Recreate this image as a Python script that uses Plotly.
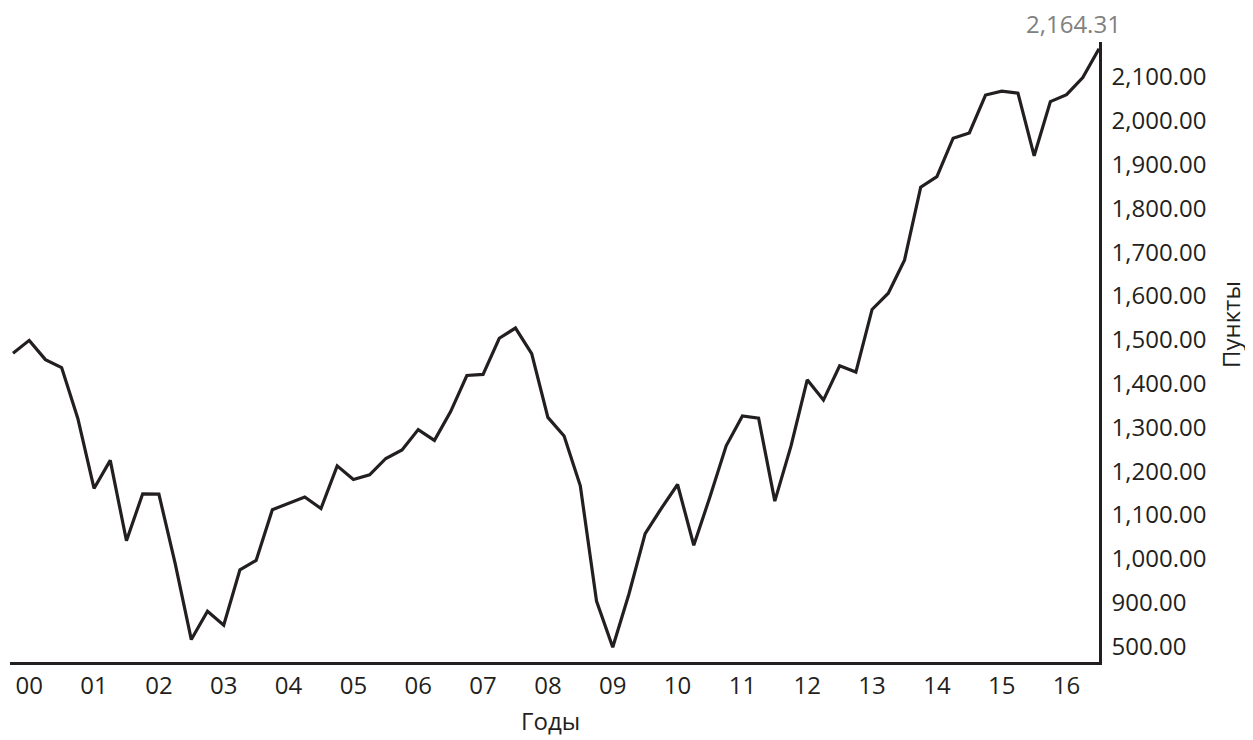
import plotly.graph_objects as go

# Quarter labels (quarter-end closes), Dec 1999 .. Q3 2016
quarters = ["1999 Q4"] + [f"{y} Q{q}" for y in range(2000, 2016) for q in range(1, 5)] + ["2016 Q1", "2016 Q2", "2016 Q3"]

values = [
    1469.25,
    1498.58, 1454.60, 1436.51, 1320.28,
    1160.33, 1224.42, 1040.94, 1148.08,
    1147.39, 989.82, 815.28, 879.82,
    848.18, 974.50, 995.97, 1111.92,
    1126.21, 1140.84, 1114.58, 1211.92,
    1180.59, 1191.33, 1228.81, 1248.29,
    1294.83, 1270.20, 1335.85, 1418.30,
    1420.86, 1503.35, 1526.75, 1468.36,
    1322.70, 1280.00, 1166.36, 903.25,
    797.87, 919.32, 1057.08, 1115.10,
    1169.43, 1030.71, 1141.20, 1257.64,
    1325.83, 1320.64, 1131.42, 1257.60,
    1408.47, 1362.16, 1440.67, 1426.19,
    1569.19, 1606.28, 1681.55, 1848.36,
    1872.34, 1960.23, 1972.29, 2058.90,
    2067.89, 2063.11, 1920.03, 2043.94,
    2059.74, 2098.86, 2164.31,
]

# Year tick labels, placed at Q1 of each year
year_ticks = [f"{y} Q1" for y in range(2000, 2017)]
year_labels = ["00", "01", "02", "03", "04", "05", "06", "07", "08",
               "09", "10", "11", "12", "13", "14", "15", "16"]

# Y ticks (the bottom label marks a broken axis)
y_tickvals = [800, 900, 1000, 1100, 1200, 1300, 1400, 1500, 1600, 1700, 1800, 1900, 2000, 2100]
y_ticktext = ["500.00", "900.00", "1,000.00", "1,100.00", "1,200.00", "1,300.00", "1,400.00",
              "1,500.00", "1,600.00", "1,700.00", "1,800.00", "1,900.00", "2,000.00", "2,100.00"]

last_label = "2,164.31"

INK = "#231f20"
FONT = "Open Sans"

# page body has an 8px default margin; figure is sized to compensate
OFF = 8
W, H = 1253 - OFF, 740 - OFF
ML, MR, MT, MB = 10 - OFF, 154, 42 - OFF, 78

fig = go.Figure()
fig.add_trace(go.Scatter(
    x=quarters, y=values, mode="lines",
    line=dict(color=INK, width=3.2),
    hoverinfo="x+y", showlegend=False,
))

plot_w = W - ML - MR
plot_h = H - MT - MB


def to_paper(px, py):
    return (px - OFF - ML) / plot_w, 1 - (py - OFF - MT) / plot_h


px_y, py_y = to_paper(1230, 325)
px_x, py_x = to_paper(550, 720)

fig.update_layout(
    width=W, height=H,
    margin=dict(l=ML, r=MR, t=MT, b=MB, pad=0),
    paper_bgcolor="white", plot_bgcolor="white",
    font=dict(family=FONT, color=INK, size=24),
    xaxis=dict(
        type="category",
        categoryorder="array", categoryarray=quarters,
        range=[-0.185, len(quarters) - 1],
        tickmode="array", tickvals=year_ticks, ticktext=year_labels,
        showgrid=False, zeroline=False,
        showline=True, linecolor=INK, linewidth=2.5,
        ticks="", tickfont=dict(size=24, family=FONT, color=INK),
    ),
    yaxis=dict(
        side="right",
        range=[764, 2180],
        tickmode="array", tickvals=y_tickvals, ticktext=y_ticktext,
        showgrid=False, zeroline=False,
        showline=True, linecolor=INK, linewidth=2.5,
        ticks="", ticklabelstandoff=5,
        tickfont=dict(size=24, family=FONT, color=INK),
    ),
    annotations=[
        dict(x=quarters[-1], y=values[-1], xref="x", yref="y",
             text=last_label, showarrow=False,
             xanchor="center", yanchor="middle", xshift=-26, yshift=25,
             font=dict(size=24, family=FONT, color="#808080")),
        dict(x=px_y, y=py_y, xref="paper", yref="paper", text="Пункты",
             showarrow=False, textangle=-90, xanchor="center", yanchor="middle",
             font=dict(size=24, family=FONT, color=INK)),
        dict(x=px_x, y=py_x, xref="paper", yref="paper", text="Годы",
             showarrow=False, xanchor="center", yanchor="middle",
             font=dict(size=24, family=FONT, color=INK)),
    ],
)

fig.write_html("out.html")
